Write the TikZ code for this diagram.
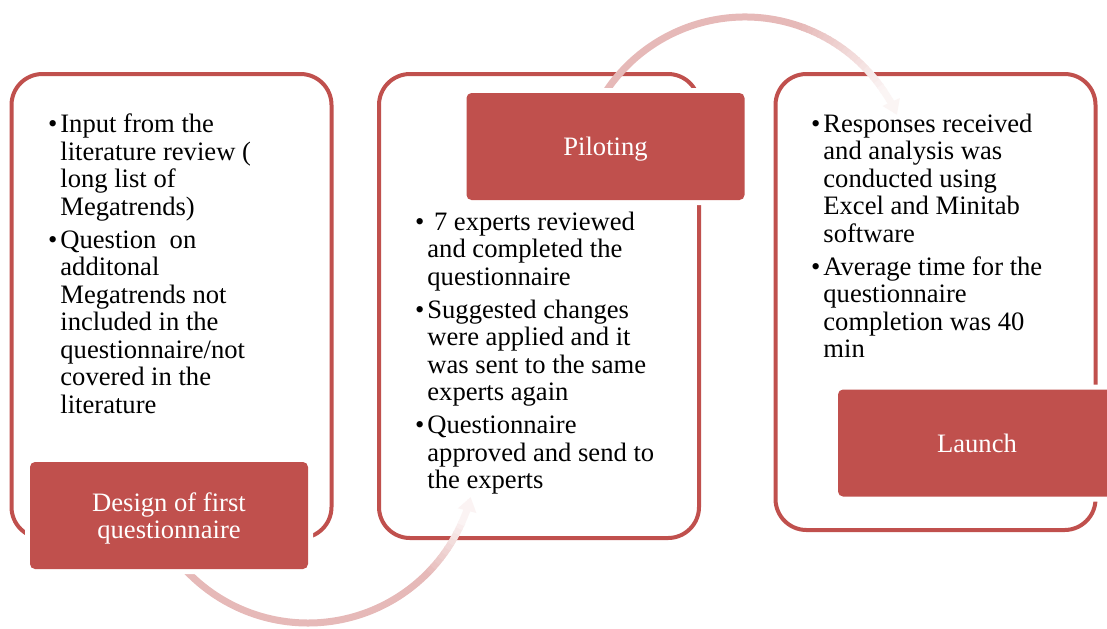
\documentclass[tikz,border=0pt]{standalone}
\usepackage{fontspec}
\setmainfont{Liberation Serif}
\usetikzlibrary{arrows.meta}
\definecolor{accent}{HTML}{C0504D}
\newcommand{\itembul}{\llap{\textbullet\hspace{1.5pt}}}

\begin{document}
\begin{tikzpicture}[x=0.5pt,y=-0.5pt,
        every node/.style={font=\fontsize{13.3pt}{13.75pt}\selectfont},
        stagebox/.style={draw=accent,line width=2pt,fill=white,
            rounded corners=15.5pt,minimum width=160pt},
        labelbox/.style={fill=accent,text=white,rounded corners=2.5pt,
            minimum width=139pt,minimum height=53.5pt,align=center,text depth=0pt,
            preaction={draw=white,line width=5pt}},
        bullets/.style={anchor=north west,inner sep=0pt,align=left},
        flowarc/.style={line width=3.5pt}]
    \useasboundingbox (0,0) rectangle (1107,628);

    \node[stagebox,minimum height=232pt] (design) at (171.5,306) {};
    \node[stagebox,minimum height=232pt] (pilot) at (539,306) {};
    \node[stagebox,minimum height=228pt] (launch) at (935.5,302) {};

    % bent arrows behind the labels
    \coordinate (c1) at (308,455);
    \coordinate (c2) at (745,184);
    \draw[flowarc,accent!40!white] (c1) ++(155:168) arc[start angle=155,end angle=43,radius=168];
    \foreach \a [count=\i] in {44,42,...,26} {
        \pgfmathtruncatemacro\p{40-3*\i}
        \draw[flowarc,accent!\p!white] (c1) ++(\a:168) arc[start angle=\a,end angle=\a-2.4,radius=168];
    }
    \draw[flowarc,accent!7!white,-{Triangle[width=9pt,length=7pt]}] (c1) ++(24.5:168) arc[start angle=24.5,end angle=14.5,radius=168];

    \draw[flowarc,accent!40!white] (c2) ++(205:167) arc[start angle=205,end angle=291,radius=167];
    \foreach \a [count=\i] in {290,292,...,324} {
        \pgfmathtruncatemacro\p{40-1.8*\i}
        \draw[flowarc,accent!\p!white] (c2) ++(\a:167) arc[start angle=\a,end angle=\a+2.4,radius=167];
    }
    \draw[flowarc,accent!6!white,-{Triangle[width=9pt,length=7pt]}] (c2) ++(325.5:167) arc[start angle=325.5,end angle=335.5,radius=167];

    \node[labelbox] (designlbl) at (169,515.5) {Design of first\\questionnaire};
    \node[labelbox] (pilotlbl) at (605.5,146.5) {Piloting};
    \node[labelbox] (launchlbl) at (977,443) {Launch};

    \node[bullets] (designtxt) at (60,113.6) {\itembul Input from the\\ literature review (\\ long list of\\ Megatrends)\\[2.75pt]
        \itembul Question\ \ on\\ additonal\\ Megatrends not\\ included in the\\ questionnaire/not\\ covered in the\\ literature};
    \node[bullets] (pilottxt) at (427,211.6) {\itembul\ 7 experts reviewed\\ and completed the\\ questionnaire\\[2.75pt]
        \itembul Suggested changes\\ were applied and it\\ was sent to the same\\ experts again\\[2.75pt]
        \itembul Questionnaire\\ approved and send to\\ the experts};
    \node[bullets] (launchtxt) at (823,113.6) {\itembul Responses received\\ and analysis was\\ conducted using\\ Excel and Minitab\\ software\\[2.75pt]
        \itembul Average time for the\\ questionnaire\\ completion was 40\\ min};
\end{tikzpicture}
\end{document}
